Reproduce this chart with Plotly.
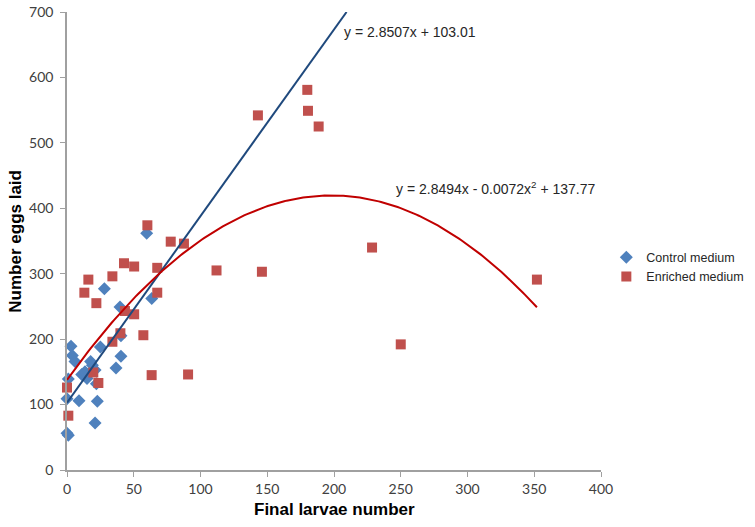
import numpy as np
import plotly.graph_objects as go

# ── Data ───────────────────────────────────────────────────────────────────────

control_x = [0, 1, 0, 1, 3, 4, 6, 9, 11, 13.5, 15, 16.7, 17.7, 19, 21, 22, 22.7, 21,
             25, 28, 36.7, 40.4, 40.4, 39.7, 59.7, 63.5]
control_y = [56, 53, 109, 139, 189, 175, 166, 106, 146, 150, 140, 147, 166, 160, 153, 132,
             105, 72, 188, 277, 156, 174, 205, 249, 362, 262]

enriched_x = [0, 1, 13, 16, 22, 19.7, 23.5, 34, 34, 40, 42.7, 43.4, 50.3, 50.3, 57.2,
              60.2, 63.4, 67.6, 67.6, 77.7, 87.6, 90.7, 112, 143, 146, 180, 180.5,
              188.5, 228.5, 250, 352]
enriched_y = [126, 83, 271, 291, 255, 149, 133, 296, 196, 209, 316, 243, 311, 238, 206,
              374, 145, 309, 271, 349, 346, 146, 305, 542, 303, 581, 549, 525, 340, 192,
              291]

# trendline coefficients as printed on the chart
lin_coef = [2.8507, 103.01]             # slope, intercept
poly_coef = [-0.0072, 2.8494, 137.77]   # x², x, const

BLUE = "#4f81bd"
RED = "#c0504d"
LINE_BLUE = "#1f497d"
LINE_RED = "#c00000"
AXIS = "#a0a0a0"
TXT = "#404040"

# ── Figure ─────────────────────────────────────────────────────────────────────

fig = go.Figure()

fig.add_trace(go.Scatter(
    x=control_x, y=control_y, mode="markers", name="Control medium",
    marker=dict(symbol="diamond", size=10, color=BLUE),
    cliponaxis=False,
))
fig.add_trace(go.Scatter(
    x=enriched_x, y=enriched_y, mode="markers", name="Enriched medium",
    marker=dict(symbol="square", size=10, color=RED),
    cliponaxis=False,
))

# linear trendline, forecast forward until it leaves the top of the chart
x_end = (700 - lin_coef[1]) / lin_coef[0]
lx = np.array([0, x_end])
fig.add_trace(go.Scatter(
    x=lx, y=np.polyval(lin_coef, lx), mode="lines", showlegend=False,
    line=dict(color=LINE_BLUE, width=2), hoverinfo="skip",
))

# polynomial trendline over the enriched data range
px_ = np.linspace(min(enriched_x), max(enriched_x), 200)
fig.add_trace(go.Scatter(
    x=px_, y=np.polyval(poly_coef, px_), mode="lines", showlegend=False,
    line=dict(color=LINE_RED, width=2), hoverinfo="skip",
))

fig.add_annotation(
    x=0.515, y=0.957, xref="paper", yref="paper", xanchor="left", yanchor="middle",
    text="y = 2.8507x + 103.01", showarrow=False,
    font=dict(family="Liberation Sans, Arial", size=14, color="#262626"),
)
fig.add_annotation(
    x=0.612, y=0.616, xref="paper", yref="paper", xanchor="left", yanchor="middle",
    text="y = 2.8494x - 0.0072x<sup>2</sup> + 137.77", showarrow=False,
    font=dict(family="Liberation Sans, Arial", size=14, color="#262626"),
)
fig.add_annotation(
    x=-0.098, y=0.5, xref="paper", yref="paper", xanchor="center", yanchor="middle",
    text="<b>Number eggs laid</b>", textangle=-90, showarrow=False,
    font=dict(family="Liberation Sans, Arial", size=17, color="#000000"),
)
fig.add_annotation(
    x=0.5, y=-0.086, xref="paper", yref="paper", xanchor="center", yanchor="middle",
    text="<b>Final larvae number</b>", showarrow=False,
    font=dict(family="Liberation Sans, Arial", size=17, color="#000000"),
)

axis_common = dict(
    showgrid=False, zeroline=False, showline=True, linecolor=AXIS, linewidth=1.5,
    ticks="outside", ticklen=5, tickcolor=AXIS, tickwidth=1, automargin=False,
    tickfont=dict(family="Lato, Open Sans", size=14, color=TXT),
)

fig.update_layout(
    width=755, height=527,
    plot_bgcolor="#ffffff",
    paper_bgcolor="#ffffff",
    margin=dict(l=67, r=154, t=12, b=57, autoexpand=False),
    xaxis=dict(range=[0, 400], dtick=50, **axis_common),
    yaxis=dict(range=[0, 700], dtick=100, ticklabelstandoff=4, **axis_common),
    legend=dict(
        x=1.01, y=0.443, xanchor="left", yanchor="middle",
        font=dict(family="Liberation Sans, Arial", size=12.5, color="#262626"),
        itemwidth=30, tracegroupgap=2,
    ),
    showlegend=True,
)

# drop the default page margin so the figure sits at the window's corner
fig.write_html(
    "out.html",
    config={"displayModeBar": False},
    post_script="document.body.style.margin = '0';",
)
